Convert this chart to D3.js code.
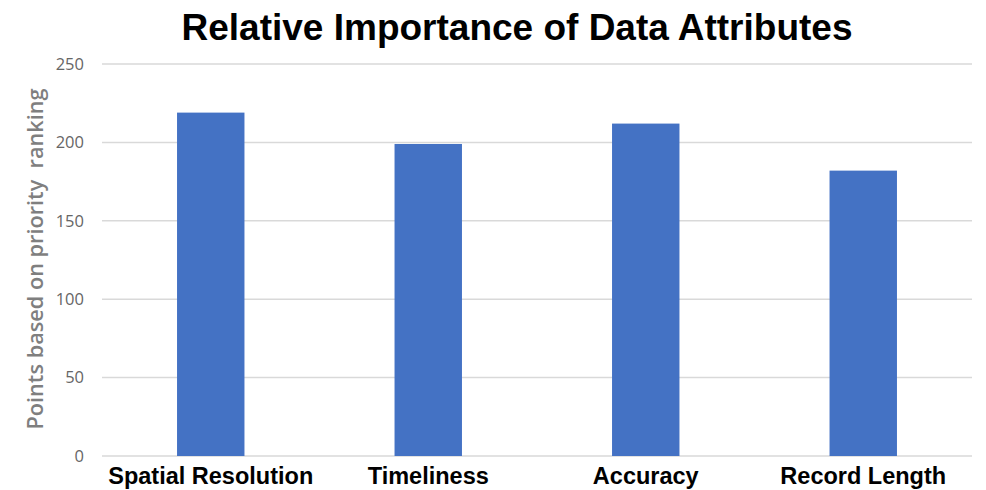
<!DOCTYPE html>
<html>
<head>
<meta charset="utf-8">
<script src="https://cdn.jsdelivr.net/npm/d3@7"></script>
<style>
  html, body { margin: 0; padding: 0; background: #fff; }
  svg { display: block; }
</style>
</head>
<body>
<svg id="chart" width="986" height="490"></svg>
<script>
// Attribute scores
const categories = ["Spatial Resolution", "Timeliness", "Accuracy", "Record Length"];
const points = [219, 199, 212, 182];
const yTicks = [0, 50, 100, 150, 200, 250];

const svg = d3.select("#chart");

const x = d3.scaleBand()
  .domain(categories)
  .range([102, 972])
  .paddingInner(0.69)
  .paddingOuter(0.345);

const y = d3.scaleLinear()
  .domain([0, 250])
  .range([456, 64]);

// Gridlines
svg.append("g")
  .selectAll("line")
  .data(yTicks)
  .join("line")
  .attr("x1", 102)
  .attr("x2", 972)
  .attr("y1", d => y(d))
  .attr("y2", d => y(d))
  .attr("stroke", "#d9d9d9")
  .attr("stroke-width", 1.5);

// Y axis tick labels
const yAxis = d3.axisLeft(y).tickValues(yTicks).tickSize(0).tickPadding(0);
const gy = svg.append("g")
  .attr("transform", "translate(84,0)")
  .call(yAxis);
gy.select(".domain").remove();
gy.selectAll("text")
  .attr("fill", "#666")
  .attr("font-family", "'Open Sans', sans-serif")
  .attr("font-size", 16.5);

// Bars
svg.append("g")
  .selectAll("rect")
  .data(categories)
  .join("rect")
  .attr("x", d => x(d))
  .attr("width", x.bandwidth())
  .attr("y", (d, i) => y(points[i]))
  .attr("height", (d, i) => y(0) - y(points[i]))
  .attr("fill", "#4472c4");

// Category labels
const xAxis = d3.axisBottom(x).tickSize(0).tickPadding(0);
const gx = svg.append("g")
  .attr("transform", "translate(0,484)")
  .call(xAxis);
gx.select(".domain").remove();
gx.selectAll("text")
  .attr("fill", "#000")
  .attr("font-family", "'Liberation Sans', Arial, sans-serif")
  .attr("font-weight", "bold")
  .attr("font-size", 23.5)
  .attr("dy", 0);

// Y axis title
svg.append("text")
  .attr("transform", "translate(35,259) rotate(-90)")
  .attr("text-anchor", "middle")
  .attr("dy", "0.35em")
  .attr("fill", "#7f7f7f")
  .attr("font-family", "'Open Sans', sans-serif")
  .attr("font-weight", 600)
  .attr("font-size", 21.7)
  .attr("xml:space", "preserve")
  .text("Points based on priority  ranking");

// Title
svg.append("text")
  .attr("x", 517)
  .attr("y", 40)
  .attr("text-anchor", "middle")
  .attr("fill", "#000")
  .attr("font-family", "'Liberation Sans', Arial, sans-serif")
  .attr("font-weight", "bold")
  .attr("font-size", 37)
  .text("Relative Importance of Data Attributes");
</script>
</body>
</html>
